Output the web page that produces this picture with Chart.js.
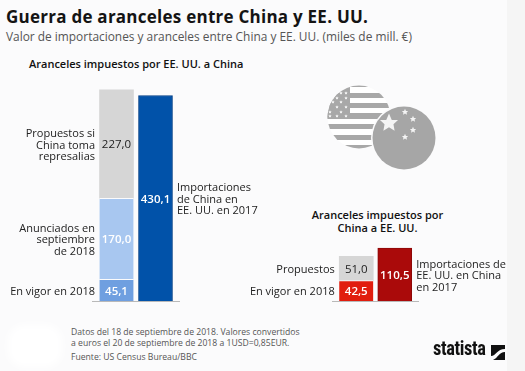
<!DOCTYPE html>
<html>
<head>
<meta charset="utf-8">
<script src="https://cdn.jsdelivr.net/npm/chart.js@4"></script>
<style>
html, body { margin: 0; padding: 0; }
body { width: 525px; height: 371px; overflow: hidden; background: #fbfbfc; position: relative; font-family: "Open Sans", sans-serif; color: #111; }
.t { position: absolute; white-space: nowrap; }
canvas { position: absolute; }
#wrapA { position: absolute; left: 0; top: 60px; width: 262px; height: 260px; }
#wrapB { position: absolute; left: 240px; top: 60px; width: 285px; height: 260px; }
#side { position: absolute; left: 507px; top: 0; width: 18px; height: 371px; background: #f5f5f5; }
#blob { position: absolute; left: 8px; top: 325px; width: 54px; height: 42px; background: #fff; border-radius: 16px; filter: blur(4px); }
</style>
</head>
<body>
<div id="side"></div>
<div id="blob"></div>
<div class="t" style="left:6px;top:5px;font-size:17px;font-weight:700;letter-spacing:.25px;color:#141414">Guerra de aranceles entre China y EE. UU.</div>
<div class="t" style="left:6px;top:28px;font-size:11.9px;color:#555">Valor de importaciones y aranceles entre China y EE. UU. (miles de mill. €)</div>
<div class="t" style="left:29px;top:56px;font-size:11px;font-weight:600">Aranceles impuestos por EE. UU. a China</div>
<div class="t" style="left:262px;width:231px;top:209px;font-size:11px;font-weight:600;text-align:center;line-height:12.5px">Aranceles impuestos por<br>China a EE. UU.</div>
<div class="t" style="left:71px;top:327px;font-size:8.65px;color:#555;line-height:10.5px">Datos del 18 de septiembre de 2018. Valores convertidos<br>a euros el 20 de septiembre de 2018 a 1USD=0,85EUR.</div>
<div class="t" style="left:71px;top:351px;font-size:8.65px;color:#555">Fuente: US Census Bureau/BBC</div>
<div class="t" style="left:433px;top:336px;font-size:20px;font-weight:700;font-family:'Roboto Condensed','Liberation Sans Narrow',Roboto,sans-serif;color:#111;letter-spacing:-.4px;transform:scaleX(.92);transform-origin:left">statista</div>
<svg style="position:absolute;left:491px;top:345px" width="14" height="15" viewBox="0 0 14 15">
  <rect width="14" height="15" fill="#111"/>
  <path d="M0 11 C5 11 6 4 14 4 L14 7 C8 7 7 13 2 15 L0 15Z" fill="#fbfbfc"/>
</svg>
<svg style="position:absolute;left:320px;top:80px" width="125" height="100" viewBox="320 80 125 100">
  <defs>
    <clipPath id="us"><circle cx="359" cy="117" r="31.5"/></clipPath>
    <polygon id="s" points="0,-1 .29,-.31 .95,-.31 .47,.12 .59,.81 0,.45 -.59,.81 -.47,.12 -.95,-.31 -.29,-.31"/>
  </defs>
  <g clip-path="url(#us)">
    <rect x="325" y="85" width="70" height="65" fill="#fff"/>
    <g fill="#a8a8a8">
      <rect x="325" y="85" width="70" height="2"/>
      <rect x="325" y="93" width="70" height="5"/>
      <rect x="325" y="103" width="70" height="5"/>
      <rect x="325" y="113" width="70" height="6"/>
      <rect x="325" y="124" width="70" height="5"/>
      <rect x="325" y="135" width="70" height="5"/>
      <rect x="325" y="145" width="70" height="4"/>
      <rect x="325" y="85" width="25" height="34"/>
    </g>
    <g fill="#fff">
      <use href="#s" transform="translate(346 93) scale(1.7)"/><use href="#s" transform="translate(341 93) scale(1.7)"/>
      <use href="#s" transform="translate(337 98) scale(1.7)"/><use href="#s" transform="translate(346 98) scale(1.7)"/>
      <use href="#s" transform="translate(333 102) scale(1.7)"/><use href="#s" transform="translate(341 102) scale(1.7)"/>
      <use href="#s" transform="translate(337 107) scale(1.7)"/><use href="#s" transform="translate(346 107) scale(1.7)"/>
      <use href="#s" transform="translate(330 112) scale(1.7)"/><use href="#s" transform="translate(341 112) scale(1.7)"/>
      <use href="#s" transform="translate(337 116) scale(1.7)"/><use href="#s" transform="translate(346 116) scale(1.7)"/><use href="#s" transform="translate(330 116) scale(1.7)"/>
    </g>
  </g>
  <circle cx="404" cy="138" r="33" fill="#fbfbfc"/>
  <circle cx="404" cy="138" r="31.5" fill="#a6a6a6"/>
  <g fill="#f4f4f4">
    <use href="#s" transform="translate(389 123) scale(9.5)"/>
    <use href="#s" transform="translate(405 112) scale(3.3)"/>
    <use href="#s" transform="translate(413 119) scale(3.3)"/>
    <use href="#s" transform="translate(413 130) scale(3.3)"/>
    <use href="#s" transform="translate(405 137) scale(3.3)"/>
  </g>
</svg>
<div id="wrapA"><canvas id="usChart"></canvas></div>
<div id="wrapB"><canvas id="cnChart"></canvas></div>
<script>
// values in miles de mill. euros
var usCategories = ['Aranceles', 'Importaciones'];
var usVigor = [45.1, null];
var usAnunciados = [170.0, null];
var usPropuestos = [227.0, null];
var usImportaciones = [null, 430.1];

var cnCategories = ['Aranceles', 'Importaciones'];
var cnVigor = [42.5, null];
var cnPropuestos = [51.0, null];
var cnImportaciones = [null, 110.5];

var yMax = 452;
var font = '11px "Open Sans", sans-serif';

function fmt(v) {
    return v.toFixed(1).replace('.', ',');
}

// value inside the bar, description lines beside it
var barLabels = {
    id: 'barLabels',
    afterDatasetsDraw: function (chart) {
        var ctx = chart.ctx;
        ctx.save();
        ctx.textBaseline = 'middle';
        chart.data.datasets.forEach(function (ds, i) {
            chart.getDatasetMeta(i).data.forEach(function (bar, j) {
                var v = ds.data[j];
                if (v === null) return;
                var midY = (bar.y + bar.base) / 2;
                ctx.font = ds.valueFont;
                ctx.textAlign = 'center';
                ctx.fillStyle = ds.valueColor;
                ctx.fillText(fmt(v), bar.x, midY + 1);
                ctx.font = font;
                ctx.fillStyle = '#222';
                var side = j === 0 ? -1 : 1;
                ctx.textAlign = side < 0 ? 'right' : 'left';
                ds.note.forEach(function (line, k) {
                    var y = midY + 1.5 + (k - (ds.note.length - 1) / 2) * 11.5;
                    ctx.fillText(line, bar.x + side * 21.5, y);
                });
            });
        });
        ctx.restore();
    }
};

// grey baseline, a bit wider than the bars
var baseline = {
    id: 'baseline',
    afterDraw: function (chart) {
        var ctx = chart.ctx, y = chart.scales.y.getPixelForValue(0);
        ctx.save();
        ctx.strokeStyle = '#b9b9b9';
        ctx.lineWidth = 1;
        ctx.beginPath();
        ctx.moveTo(chart.chartArea.left - 5, y + 0.5);
        ctx.lineTo(chart.chartArea.right + 5, y + 0.5);
        ctx.stroke();
        ctx.restore();
    }
};

function makeChart(id, labels, datasets, left, right) {
    return new Chart(document.getElementById(id), {
        type: 'bar',
        data: { labels: labels, datasets: datasets },
        options: {
            responsive: true,
            maintainAspectRatio: false,
            animation: false,
            layout: { padding: { left: left, right: right, top: 25, bottom: 19 } },
            datasets: { bar: { barThickness: 34 } },
            plugins: { legend: { display: false }, tooltip: { enabled: false } },
            scales: {
                x: { stacked: true, display: false },
                y: { stacked: true, display: false, min: 0, max: yMax }
            }
        },
        plugins: [barLabels, baseline]
    });
}

var light = '400 11.5px "Open Sans", sans-serif';
var strong = '600 11.5px "Open Sans", sans-serif';

makeChart('usChart', usCategories, [
    { data: usVigor, backgroundColor: '#6f9fe0', borderColor: '#fbfbfc', borderWidth: { top: 1 }, valueColor: '#fff', valueFont: strong, note: ['En vigor en 2018'] },
    { data: usAnunciados, backgroundColor: '#a8c7f0', borderColor: '#fbfbfc', borderWidth: { top: 1 }, valueColor: '#fff', valueFont: strong, note: ['Anunciados en', 'septiembre', 'de 2018'] },
    { data: usPropuestos, backgroundColor: '#d6d6d6', valueColor: '#222', valueFont: light, note: ['Propuestos si', 'China toma', 'represalias'] },
    { data: usImportaciones, backgroundColor: '#0152a9', borderColor: '#033f86', borderWidth: 1, valueColor: '#fff', valueFont: strong, note: ['Importaciones', 'de China en', 'EE. UU. en 2017'] }
], 97, 87);

makeChart('cnChart', cnCategories, [
    { data: cnVigor, backgroundColor: '#e11d0e', borderColor: '#fbfbfc', borderWidth: { top: 1 }, valueColor: '#fff', valueFont: strong, note: ['En vigor en 2018'] },
    { data: cnPropuestos, backgroundColor: '#d6d6d6', valueColor: '#222', valueFont: light, note: ['Propuestos'] },
    { data: cnImportaciones, backgroundColor: '#aa0a0a', borderColor: '#8c0808', borderWidth: 1, valueColor: '#fff', valueFont: strong, note: ['Importaciones de', 'EE. UU. en China', 'en 2017'] }
], 97, 111);
</script>
</body>
</html>
